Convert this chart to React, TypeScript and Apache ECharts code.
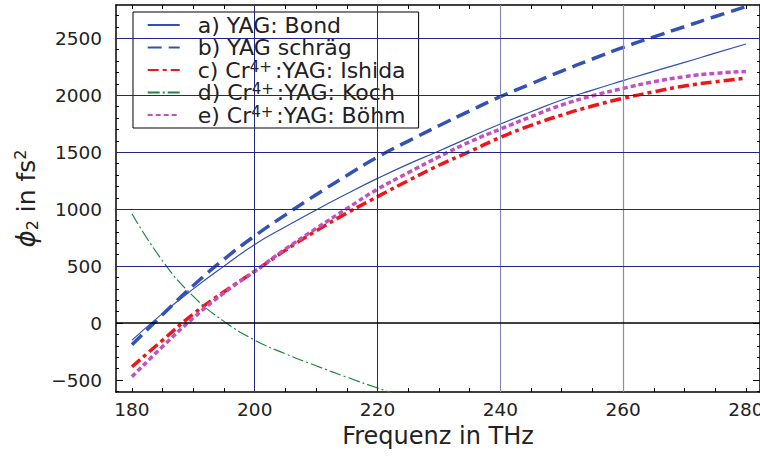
import React, { useEffect, useRef } from "react";
import * as echarts from "echarts";

const FONT = "DejaVu Sans, Liberation Sans, Arial, sans-serif";

const freq = [180, 185, 190, 195, 200, 205, 210, 215, 220, 225, 230, 235, 240, 245, 250, 255, 260, 265, 270, 275, 280];
const bond = [-150, 85, 300, 500, 690, 845, 993, 1135, 1270, 1395, 1510, 1630, 1747, 1855, 1958, 2045, 2128, 2210, 2288, 2370, 2450];
const schraeg = [-190, 75, 330, 560, 765, 950, 1127, 1296, 1457, 1597, 1732, 1862, 1987, 2100, 2212, 2318, 2420, 2512, 2602, 2691, 2777];
const ishida = [-383, -150, 80, 275, 455, 640, 810, 965, 1110, 1250, 1385, 1505, 1630, 1735, 1826, 1905, 1973, 2030, 2081, 2118, 2149];
const boehm = [-471, -205, 45, 265, 455, 650, 830, 1005, 1175, 1320, 1460, 1590, 1703, 1812, 1914, 1995, 2060, 2118, 2163, 2192, 2208];
const kochFreq = [180, 185, 190, 195, 200, 205, 210, 215, 220, 225];
const koch = [960, 545, 235, 15, -150, -270, -375, -475, -570, -660];

const names = ["a) YAG: Bond", "b) YAG schräg", "c) Cr4+:YAG: Ishida", "d) Cr4+:YAG: Koch", "e) Cr4+:YAG: Böhm"];

const xLabelValues = [180, 200, 220, 240, 260, 280];
const xTickValues = [180, 185, 190, 195, 200, 205, 210, 215, 220, 225, 230, 235, 240, 245, 250, 255, 260, 265, 270, 275, 280];
const yLabelValues = [-500, 0, 500, 1000, 1500, 2000, 2500];
const yTickValues = [-600, -500, -400, -300, -200, -100, 0, 100, 200, 300, 400, 500, 600, 700, 800, 900, 1000, 1100, 1200, 1300, 1400, 1500, 1600, 1700, 1800, 1900, 2000, 2100, 2200, 2300, 2400, 2500, 2600, 2700];
const hGrid = [500, 1000, 1500, 2000, 2500];
const vGridDark = [200, 220];
const vGridLight = [240, 260];

const X_MIN = 177.4;
const X_MAX = 282.3;
const Y_MIN = -605;
const Y_MAX = 2792;

function pairs(xs: number[], ys: number[]) {
  return xs.map((x, i) => [x, ys[i]]);
}

function legendText(name: string) {
  const m = name.match(/^(.*Cr)4\+(.*)$/);
  if (m) return `{f|${m[1]}}{s|4+}{t|${m[2]}}`;
  return `{f|${name}}`;
}

export default function App() {
  const ref = useRef<HTMLDivElement>(null);
  useEffect(() => {
    if (!ref.current) return;
    const chart = echarts.init(ref.current, undefined, { renderer: "svg" });
    const black = "#000";
    const textColor = "#222";
    const tickCommon = { inside: true, lineStyle: { color: black, width: 1 } };
    const baseX = {
      type: "value" as const,
      min: X_MIN,
      max: X_MAX,
      splitLine: { show: false },
      axisLine: { show: true, onZero: false, lineStyle: { color: black, width: 1.5 } },
    };
    const baseY = {
      type: "value" as const,
      min: Y_MIN,
      max: Y_MAX,
      splitLine: { show: false },
      axisLine: { show: true, onZero: false, lineStyle: { color: black, width: 1.5 } },
    };
    const seriesCommon = {
      type: "line" as const,
      symbol: "none",
      smooth: true,
      z: 3,
      xAxisIndex: 0,
      yAxisIndex: 0,
      clip: true,
    };
    chart.setOption({
      animation: false,
      backgroundColor: "#fff",
      grid: { left: 116, right: 0, top: 5, bottom: 64, containLabel: false, outerBoundsMode: "none" },
      xAxis: [
        {
          ...baseX,
          position: "bottom",
          axisTick: { ...tickCommon, length: 4, customValues: xTickValues },
          axisLabel: {
            customValues: xLabelValues,
            fontSize: 18.5,
            fontFamily: FONT,
            color: textColor,
            margin: 8,
          },
          name: "Frequenz in THz",
          nameLocation: "middle",
          nameGap: 30,
          nameTextStyle: { fontSize: 24, fontFamily: FONT, color: textColor },
        },
        {
          ...baseX,
          position: "top",
          axisTick: { ...tickCommon, length: 4, customValues: xTickValues },
          axisLabel: { show: false },
        },
      ],
      yAxis: [
        {
          ...baseY,
          position: "left",
          axisTick: { ...tickCommon, length: 3, customValues: yTickValues },
          axisLabel: {
            customValues: yLabelValues,
            fontSize: 18.5,
            fontFamily: FONT,
            color: textColor,
            margin: 14,
            formatter: (v: number) => (v < 0 ? "\u2212" + Math.abs(v) : String(v)),
          },
          name: "{i|\u03D5}{sub|2}{n| in fs}{sup|2}",
          nameLocation: "middle",
          nameRotate: 90,
          nameGap: 76,
          nameTextStyle: {
            fontSize: 25,
            fontFamily: FONT,
            color: textColor,
            rich: {
              i: { fontSize: 26, fontStyle: "italic", fontFamily: FONT, color: textColor, lineHeight: 28 },
              sub: { fontSize: 16, fontFamily: FONT, color: textColor, verticalAlign: "bottom", lineHeight: 16 },
              n: { fontSize: 25, fontFamily: FONT, color: textColor, lineHeight: 28 },
              sup: { fontSize: 16, fontFamily: FONT, color: textColor, verticalAlign: "top", lineHeight: 12 },
            },
          },
        },
        {
          ...baseY,
          position: "left",
          axisLine: { show: false },
          axisTick: { ...tickCommon, length: 7, customValues: yLabelValues },
          axisLabel: { show: false },
        },
        {
          ...baseY,
          position: "right",
          axisTick: { ...tickCommon, length: 3, customValues: yTickValues },
          axisLabel: { show: false },
        },
        {
          ...baseY,
          position: "right",
          axisLine: { show: false },
          axisTick: { ...tickCommon, length: 7, customValues: yLabelValues },
          axisLabel: { show: false },
        },
      ],
      legend: {
        orient: "vertical",
        left: 133,
        top: 12,
        data: names,
        selectedMode: false,
        backgroundColor: "#fff",
        borderColor: "#000",
        borderWidth: 1,
        padding: [2, 13, 2, 13.7],
        itemGap: 0.5,
        itemWidth: 32,
        itemHeight: 10,
        itemStyle: { opacity: 0 },
        formatter: (name: string) => legendText(name),
        textStyle: {
          fontFamily: FONT,
          fontSize: 22,
          color: textColor,
          lineHeight: 22,
          rich: {
            f: { fontFamily: FONT, fontSize: 22, color: textColor, lineHeight: 22, padding: [0, 0, 0, 13] },
            t: { fontFamily: FONT, fontSize: 22, color: textColor, lineHeight: 22 },
            s: { fontFamily: FONT, fontSize: 15, color: textColor, lineHeight: 9, verticalAlign: "top", padding: [0, 3, 0, 0] },
          },
        },
      },
      series: [
        {
          type: "line",
          name: "grid",
          data: [],
          xAxisIndex: 0,
          yAxisIndex: 0,
          z: 1,
          silent: true,
          markLine: {
            silent: true,
            symbol: ["none", "none"],
            label: { show: false },
            animation: false,
            data: [
              ...vGridDark.map((v) => ({ xAxis: v, lineStyle: { color: "#1f2580", width: 1, type: "solid" } })),
              ...vGridLight.map((v) => ({ xAxis: v, lineStyle: { color: "#8a8ab8", width: 1.2, type: "solid" } })),
              ...hGrid.map((v) => ({ yAxis: v, lineStyle: { color: "#1f2580", width: 1, type: "solid" } })),
              { yAxis: 0, lineStyle: { color: "#000", width: 1.5, type: "solid" } },
            ],
          },
        },
        {
          ...seriesCommon,
          name: names[0],
          data: pairs(freq, bond),
          color: "#3050b2",
          lineStyle: { color: "#3050b2", width: 1.2, type: "solid" },
        },
        {
          ...seriesCommon,
          name: names[1],
          data: pairs(freq, schraeg),
          color: "#3352b4",
          lineStyle: { color: "#3352b4", width: 3.5, type: [14, 7] },
        },
        {
          ...seriesCommon,
          name: names[2],
          data: pairs(freq, ishida),
          color: "#f0151a",
          lineStyle: { color: "#f0151a", width: 3.5, type: [11, 4, 4, 4] },
        },
        {
          ...seriesCommon,
          name: names[3],
          data: pairs(kochFreq, koch),
          color: "#1b8a3c",
          lineStyle: { color: "#1b8a3c", width: 1.2, type: [12, 3, 2, 3] },
        },
        {
          ...seriesCommon,
          name: names[4],
          data: pairs(freq, boehm),
          color: "#c251bf",
          lineStyle: { color: "#c251bf", width: 3.5, type: [5, 3] },
        },
      ],
    });
    return () => chart.dispose();
  }, []);
  return (
    <div
      ref={ref}
      style={{ position: "absolute", left: 0, top: 0, width: 760, height: 456 }}
    />
  );
}
